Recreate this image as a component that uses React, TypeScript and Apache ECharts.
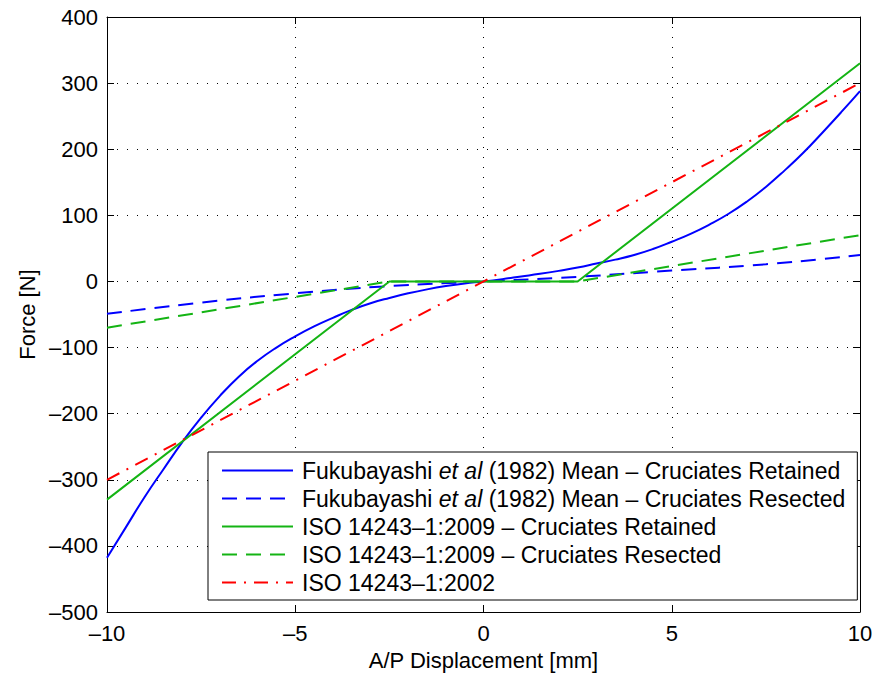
import React, { useEffect, useRef } from "react";
import * as echarts from "echarts";

const FONT = "'Liberation Sans', Arial, Helvetica, sans-serif";

// Fukubayashi et al (1982) mean - cruciates retained
const fukRetX = [-10, -9.5, -9, -8.5, -8, -7.5, -7, -6.5, -6, -5.5, -5, -4.5, -4, -3.5, -3, -2.5, -2, -1.5, -1, -0.5, 0,
  0.5, 1, 1.5, 2, 2.5, 3, 3.5, 4, 4.5, 5, 5.5, 6, 6.5, 7, 7.5, 8, 8.5, 9, 9.5, 10];
const fukRetY = [-418, -372, -326, -284, -243, -206, -173, -144, -120, -100, -83, -68, -55, -43, -33, -25, -18, -12, -7, -3, 0,
  3.5, 7.5, 11.5, 16, 21, 27, 33, 40, 49, 60, 72, 86, 102, 121, 143, 168, 195, 225, 256, 288];

// Fukubayashi et al (1982) mean - cruciates resected
const fukResX = [-10, -7.5, -5, -2.5, 0, 2.5, 5, 7.5, 10];
const fukResY = [-49, -32, -18, -7, 0, 7, 16.5, 26, 40];

// ISO 14243-1:2009 - cruciates retained
const isoRetX = [-10, -2.5, 2.5, 10];
const isoRetY = [-330, 0, 0, 330];

// ISO 14243-1:2009 - cruciates resected
const isoResX = [-10, -2.5, 2.5, 10];
const isoResY = [-70, 0, 0, 70];

// ISO 14243-1:2002
const iso2002X = [-10, 10];
const iso2002Y = [-300, 300];

const seriesNames = [
  "Fukubayashi et al (1982) Mean – Cruciates Retained",
  "Fukubayashi et al (1982) Mean – Cruciates Resected",
  "ISO 14243–1:2009 – Cruciates Retained",
  "ISO 14243–1:2009 – Cruciates Resected",
  "ISO 14243–1:2002",
];

const xTicks = { min: -10, max: 10, interval: 5 };
const yTicks = { min: -500, max: 400, interval: 100 };

const pairs = (xs: number[], ys: number[]) => xs.map((x, i) => [x, ys[i]]);
const fmt = (v: number) => (v < 0 ? "–" + Math.abs(v) : String(v));

const BLUE = "#0000ff";
const GREEN = "#14b414";
const RED = "#ff0000";

export default function App() {
  const ref = useRef<HTMLDivElement>(null);
  useEffect(() => {
    if (!ref.current) return;
    const chart = echarts.init(ref.current, undefined, { renderer: "svg" });
    const axisCommon = {
      type: "value" as const,
      axisLine: { show: true, onZero: false, lineStyle: { color: "#000", width: 1 } },
      axisTick: { show: true, inside: true, length: 7, lineStyle: { color: "#000" } },
    };
    const option: any = {
      animation: false,
      backgroundColor: "#fff",
      grid: { left: 107, right: 16, top: 17, bottom: 64, containLabel: false },
      xAxis: [
        {
          ...axisCommon,
          position: "bottom",
          ...xTicks,
          name: "A/P Displacement [mm]",
          nameLocation: "middle",
          nameGap: 37,
          nameTextStyle: { fontFamily: FONT, fontSize: 22, color: "#000" },
          axisLabel: { fontFamily: FONT, fontSize: 22, color: "#000", margin: 10, formatter: fmt },
          splitLine: { show: true, lineStyle: { color: "#000", width: 1, type: [1, 9] } },
        },
        {
          ...axisCommon,
          position: "top",
          ...xTicks,
          axisLabel: { show: false },
          splitLine: { show: false },
        },
      ],
      yAxis: [
        {
          ...axisCommon,
          position: "left",
          ...yTicks,
          name: "Force [N]",
          nameLocation: "middle",
          nameGap: 63,
          nameRotate: 90,
          nameTextStyle: { fontFamily: FONT, fontSize: 22, color: "#000" },
          axisLabel: { fontFamily: FONT, fontSize: 22, color: "#000", margin: 9, formatter: fmt },
          splitLine: { show: true, lineStyle: { color: "#000", width: 1, type: [1, 9] } },
        },
        {
          ...axisCommon,
          position: "right",
          ...yTicks,
          axisLabel: { show: false },
          splitLine: { show: false },
        },
      ],
      legend: {
        orient: "vertical",
        left: 208,
        top: 452,
        itemWidth: 71,
        itemHeight: 14,
        itemGap: 5,
        padding: [7, 12, 6, 13],
        borderColor: "#000",
        borderWidth: 1,
        borderRadius: 0,
        backgroundColor: "#fff",
        itemStyle: { opacity: 0 },
        data: seriesNames,
        formatter: (name: string) => name.replace("et al", "{i|et al}"),
        textStyle: {
          fontFamily: FONT,
          fontSize: 23,
          lineHeight: 23,
          color: "#000",
          padding: [0, 0, 0, 4],
          rich: {
            i: { fontFamily: FONT, fontSize: 23, lineHeight: 23, fontStyle: "italic", color: "#000" },
          },
        },
      },
      series: [
        {
          name: seriesNames[0],
          type: "line",
          data: pairs(fukRetX, fukRetY),
          smooth: true,
          symbol: "none",
          lineStyle: { color: BLUE, width: 2 },
          itemStyle: { color: BLUE },
        },
        {
          name: seriesNames[1],
          type: "line",
          data: pairs(fukResX, fukResY),
          smooth: true,
          symbol: "none",
          lineStyle: { color: BLUE, width: 2, type: [15, 9] },
          itemStyle: { color: BLUE },
        },
        {
          name: seriesNames[2],
          type: "line",
          data: pairs(isoRetX, isoRetY),
          symbol: "none",
          lineStyle: { color: GREEN, width: 2 },
          itemStyle: { color: GREEN },
        },
        {
          name: seriesNames[3],
          type: "line",
          data: pairs(isoResX, isoResY),
          symbol: "none",
          lineStyle: { color: GREEN, width: 2, type: [15, 9] },
          itemStyle: { color: GREEN },
        },
        {
          name: seriesNames[4],
          type: "line",
          data: pairs(iso2002X, iso2002Y),
          symbol: "none",
          lineStyle: { color: RED, width: 2, type: [14, 8, 2, 8] },
          itemStyle: { color: RED },
        },
      ],
    };
    chart.setOption(option);
    return () => chart.dispose();
  }, []);
  return <div ref={ref} style={{ width: 876, height: 676, position: "absolute", left: 0, top: 0 }} />;
}
